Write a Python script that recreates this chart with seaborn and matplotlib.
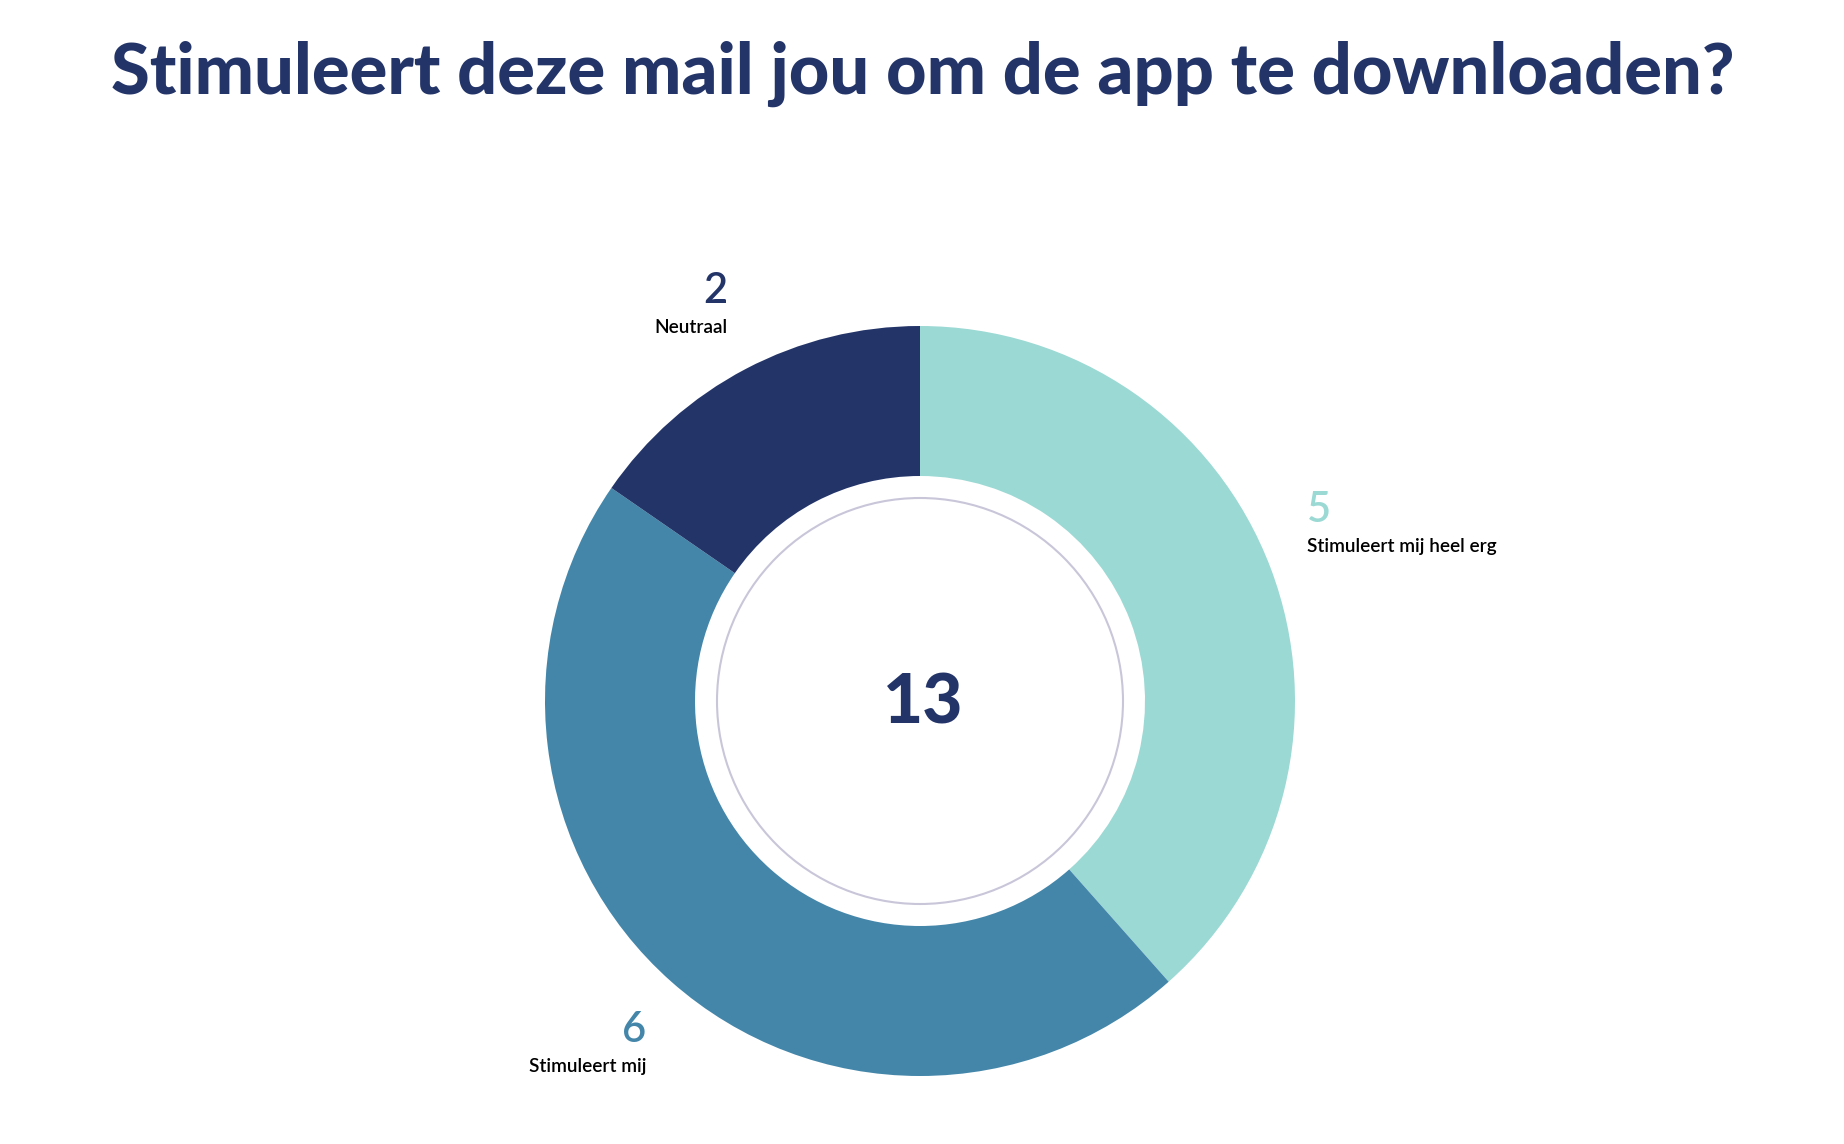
import matplotlib
matplotlib.use("Agg")
import matplotlib.pyplot as plt
from matplotlib.patches import Circle
import seaborn as sns

# ---- data ----
categories = ["Stimuleert mij heel erg", "Stimuleert mij", "Neutraal"]
counts = [5, 6, 2]
colors = ["#9BD9D4", "#4386AA", "#233469"]
title = "Stimuleert deze mail jou om de app te downloaden?"

sns.set_theme(style="white")
plt.rcParams['font.family'] = ['Lato', 'DejaVu Sans']

W, H = 1844, 1144
fig = plt.figure(figsize=(W / 100, H / 100), dpi=100)
ax = fig.add_axes([0, 0, 1, 1])

def Y(y):
    return H - y

cx, cy, R, ring = 920, 701, 375, 150
ax.pie(counts, colors=colors, startangle=90, counterclock=False,
       center=(cx, Y(cy)), radius=R,
       wedgeprops=dict(width=ring, linewidth=0))
ax.add_patch(Circle((cx, Y(cy)), 203, fill=False, edgecolor="#c9c6d9", linewidth=1.5))
ax.set_xlim(0, W)
ax.set_ylim(0, H)
ax.set_aspect('equal')
ax.axis('off')

navy = "#233469"
ax.text(923, Y(94), title, ha='center', va='baseline', fontsize=50.7,
        fontweight='black', color=navy)
ax.text(923, Y(723), str(sum(counts)), ha='center', va='baseline', fontsize=50,
        fontweight='black', color=navy)

# labels: (category index, x, number baseline, label baseline, ha)
label_pos = [(0, 1307, 522, 552, 'left'), (1, 646, 1042, 1072, 'right'), (2, 727, 303, 333, 'right')]
for i, x, yn, yl, ha in label_pos:
    ax.text(x, Y(yn), str(counts[i]), ha=ha, va='baseline', fontsize=30,
            fontweight='semibold', color=colors[i])
    ax.text(x, Y(yl), categories[i], ha=ha, va='baseline', fontsize=13.7,
            fontweight='semibold', color='black')

fig.savefig("out.png", dpi=100, facecolor='white')
